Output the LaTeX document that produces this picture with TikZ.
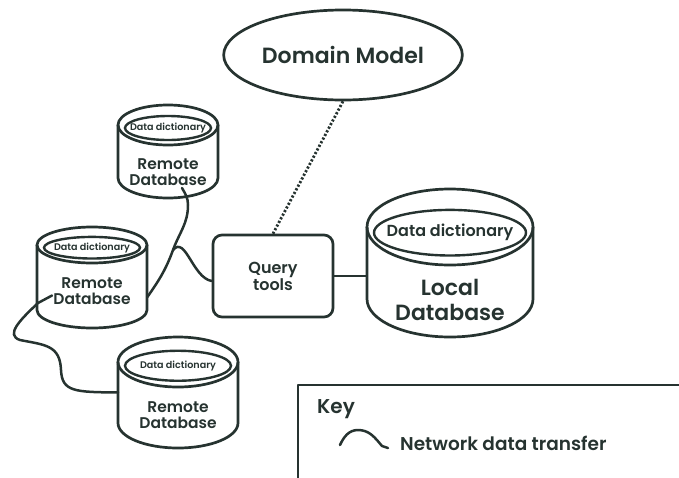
\documentclass[tikz,border=0pt]{standalone}
\usepackage{fontspec}
\setmainfont{Poppins}[UprightFont=* SemiBold]
\usepackage{tikz}
\usetikzlibrary{shapes.geometric}
\definecolor{ink}{HTML}{263330}

\begin{document}
\begin{tikzpicture}[
  x=1pt, y=1pt, color=ink,
  dbline/.style={line width=2.7pt, line join=round},
  wire/.style={line width=2.5pt, line cap=round, line join=round},
  dotline/.style={line width=2.8pt, dash pattern=on 2.2pt off 1.9pt},
  ddict/.style={draw, ellipse, inner sep=0pt, line width=2.4pt},
  ddfont/.style={font=\fontsize{9.6}{11}\selectfont},
  dblabel/.style={align=center, inner sep=0pt, font=\fontsize{15.5}{16}\selectfont},
  pics/dbase/.style n args={5}{code={
    \draw[dbline] (-#1,0) -- (-#1,-#3) arc[start angle=180, end angle=360, x radius=#1, y radius=#2] -- (#1,0);
    \draw[dbline] (0,0) ellipse[x radius=#1, y radius=#2];
    \node[ddict, minimum width=2*#1pt-14pt, minimum height=1.2*#2pt, label={[ddfont, inner sep=0pt]center:Data dictionary}] (-dd) at (0,-0.15*#2) {};
    \node[inner sep=0pt, outer sep=0pt, minimum width=2*#1pt, minimum height=#3pt] (-body) at (0,-0.5*#3) {};
    \node[dblabel] (-lbl) at (0,-#4) {#5};
  }}
]
  \useasboundingbox (0,0) rectangle (679,-477);
  \clip (0,0) rectangle (679,-477);

  % model and query tools
  \node[draw, ellipse, dbline, minimum width=194pt, minimum height=90pt, font=\fontsize{22}{24}\selectfont] (dm) at (343,-55) {Domain Model};
  \node[draw, dbline, rounded corners=9pt, minimum width=120pt, minimum height=82pt, align=center, font=\fontsize{16}{17}\selectfont] (query) at (273,-276) {Query\\tools};

  % databases
  \pic (rdbA) at (168,-125) {dbase={50}{20}{53}{47}{Remote\\Database}};
  \pic (rdbB) at (92,-245) {dbase={55}{18}{65}{46}{Remote\\Database}};
  \pic (rdbC) at (178,-362) {dbase={60}{25}{61}{53}{Remote\\Database}};
  \pic[ddfont/.style={font=\fontsize{16}{18}\selectfont}, dblabel/.style={align=center, inner sep=0pt, font=\fontsize{22}{25}\selectfont}]
    (ldb) at (450,-227) {dbase={83}{38}{72}{73}{Local\\Database}};

  % links
  \draw[dotline] (dm.south) -- (query.north);
  \draw[dbline] (query.east) -- (query.east -| ldb-body.west);

  \coordinate (jn) at (173,-250);
  \draw[wire] ([shift={(14,-10)}]rdbA-body.south) to[out=-60,in=90] (188,-205) to[out=-90,in=70] (jn) to[out=-110,in=55] ([yshift=-20pt]rdbB-body.east);
  \draw[wire] (jn) to[out=50,in=170] ([yshift=-5pt]query.west);
  \draw[wire] ([shift={(-40,-18)}]rdbB-body.center) -- (38,-303) .. controls (20,-320) and (5,-335) .. (20,-340) .. controls (45,-345) and (60,-345) .. (61,-370) .. controls (62,-392) and (75,-392) .. (rdbC-body.west);

  % key
  \draw[dbline] (298,-385) rectangle (700,-500);
  \node[anchor=base west, inner sep=0pt, font=\fontsize{20}{22}\selectfont] (keyttl) at (317,-413) {Key};
  \node[anchor=base west, inner sep=0pt, font=\fontsize{18.5}{20}\selectfont] (keytxt) at (400,-450) {Network data transfer};
  \coordinate (kwa) at (340,-445);
  \coordinate (kwb) at (388,-448);
  \draw[wire] (kwa) to[out=65,in=180] (358,-430) to[out=0,in=130] (382,-446) -- (kwb);
\end{tikzpicture}
\end{document}
